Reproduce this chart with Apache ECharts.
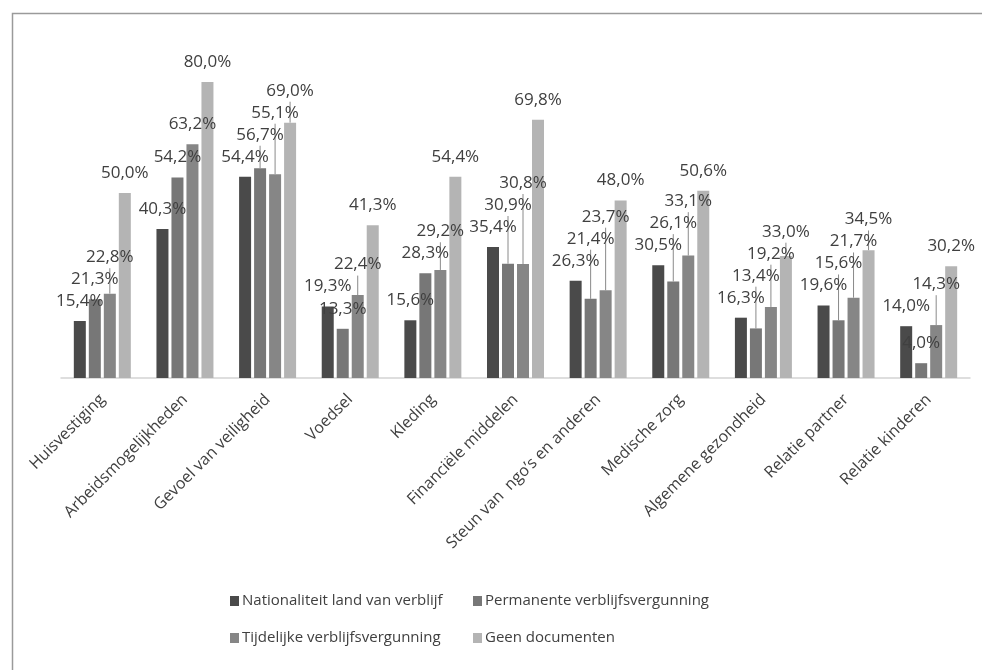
<!DOCTYPE html>
<html>
<head>
<meta charset="utf-8">
<script src="https://cdn.jsdelivr.net/npm/echarts@6/dist/echarts.min.js"></script>
<style>
html,body{margin:0;padding:0;background:#ffffff;}
#c{width:982px;height:670px;}
</style>
</head>
<body>
<div id="c"></div>
<script>
const categories = [
  'Huisvestiging', 'Arbeidsmogelijkheden', 'Gevoel van veiligheid', 'Voedsel', 'Kleding',
  'Financiële middelen', 'Steun van  ngo’s en anderen', 'Medische zorg',
  'Algemene gezondheid', 'Relatie partner', 'Relatie kinderen'
];
const seriesNames = [
  'Nationaliteit land van verblijf', 'Permanente verblijfsvergunning',
  'Tijdelijke verblijfsvergunning', 'Geen documenten'
];
const nationaliteit = [15.4, 40.3, 54.4, 19.3, 15.6, 35.4, 26.3, 30.5, 16.3, 19.6, 14.0];
const permanente    = [21.3, 54.2, 56.7, 13.3, 28.3, 30.9, 21.4, 26.1, 13.4, 15.6, 4.0];
const tijdelijke    = [22.8, 63.2, 55.1, 22.4, 29.2, 30.8, 23.7, 33.1, 19.2, 21.7, 14.3];
const geenDocumenten = [50.0, 80.0, 69.0, 41.3, 54.4, 69.8, 48.0, 50.6, 33.0, 34.5, 30.2];
const seriesValues = [nationaliteit, permanente, tijdelijke, geenDocumenten];
const colors = ['#4a4a4a', '#777777', '#868686', '#b4b4b4'];

const chart = echarts.init(document.getElementById('c'), null, {renderer: 'canvas'});

const LABEL_H = 22;     // stacked label spacing
const LABEL_GAP = 20;   // bar top to label centre
let dyTable = null;

function buildOption() {
  return {
    animation: false,
    backgroundColor: '#ffffff',
    textStyle: {fontFamily: 'Open Sans'},
    graphic: [{
      type: 'rect',
      left: 10, top: 11,
      shape: {width: 1000, height: 700},
      style: {fill: 'none', stroke: '#9a9a9a', lineWidth: 1.5},
      silent: true
    }],
    grid: {left: 61, right: 12, top: 82, bottom: 292},
    legend: [{
      orient: 'vertical', left: 225, top: 585,
      itemWidth: 9, itemHeight: 10, itemGap: 15,
      icon: 'rect',
      data: [seriesNames[0], seriesNames[2]],
      textStyle: {fontFamily: 'Open Sans', fontSize: 15, color: '#404040', lineHeight: 22, padding: [0, 0, 0, -2]}
    }, {
      orient: 'vertical', left: 468, top: 585,
      itemWidth: 9, itemHeight: 10, itemGap: 15,
      icon: 'rect',
      data: [seriesNames[1], seriesNames[3]],
      textStyle: {fontFamily: 'Open Sans', fontSize: 15, color: '#404040', lineHeight: 22, padding: [0, 0, 0, -2]}
    }],
    xAxis: {
      type: 'category',
      data: categories,
      axisLine: {show: true, lineStyle: {color: '#d4d4d4', width: 1.5}},
      axisTick: {show: false},
      axisLabel: {
        rotate: 45, interval: 0, margin: 19,
        fontFamily: 'Open Sans', fontSize: 16, color: '#404040'
      }
    },
    yAxis: {type: 'value', min: 0, max: 80, show: false, splitLine: {show: false}},
    series: seriesValues.map((vals, si) => ({
      name: seriesNames[si],
      type: 'bar',
      barWidth: 12,
      barGap: '25%',
      itemStyle: {color: colors[si]},
      label: {
        show: true, position: 'top', distance: LABEL_GAP - LABEL_H / 2,
        fontFamily: 'Open Sans', fontSize: 17, color: '#404040', lineHeight: LABEL_H,
        formatter: (p) => p.value.toFixed(1).replace('.', ',') + '%'
      },
      labelLine: {show: false, lineStyle: {color: '#8a8a8a', width: 1}},
      labelLayout: dyTable ? (p) => ({dy: dyTable[p.seriesIndex][p.dataIndex]}) : undefined,
      data: vals.map((v, di) => (dyTable && dyTable[si][di] < -4
        ? {value: v, labelLine: {show: true, lineStyle: {color: '#8a8a8a', width: 1}}}
        : v))
    }))
  };
}

// First pass: draw, then read bar tops through the value axis to stack labels.
chart.setOption(buildOption());
dyTable = seriesValues.map(() => []);
categories.forEach((c, j) => {
  const placedCentres = [];
  seriesValues.forEach((vals, i) => {
    const y = chart.convertToPixel({gridIndex: 0}, [j, vals[j]])[1];
    const def = y - LABEL_GAP;
    let cen = def;
    let again = true;
    while (again) {
      again = false;
      for (const q of placedCentres) {
        if (Math.abs(cen - q) < LABEL_H - 0.5) { cen = q - LABEL_H; again = true; }
      }
    }
    placedCentres.push(cen);
    dyTable[i][j] = cen - def;
  });
});
chart.setOption(buildOption(), true);
</script>
</body>
</html>
